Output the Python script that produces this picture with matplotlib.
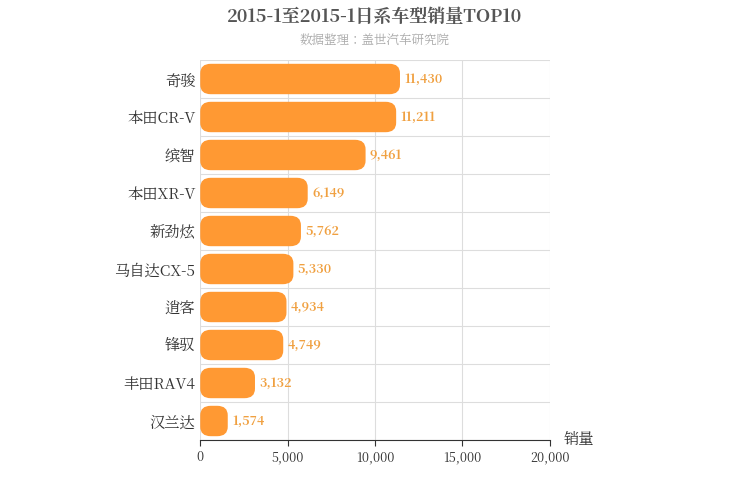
import matplotlib
matplotlib.use("Agg")
import matplotlib.pyplot as plt
from matplotlib import font_manager as fm
from matplotlib.patches import FancyBboxPatch

cjk = None
for f in fm.findSystemFonts():
    if "CJK" in f or "cjk" in f.lower():
        try:
            fm.fontManager.addfont(f)
            name = fm.FontProperties(fname=f).get_name()
            if cjk is None or "SC" in name:
                cjk = name
        except Exception:
            pass
plt.rcParams['font.family'] = [cjk or 'Noto Sans CJK SC', 'DejaVu Sans']

categories = ["奇骏", "本田CR-V", "缤智", "本田XR-V", "新劲炫", "马自达CX-5", "逍客", "锋驭", "丰田RAV4", "汉兰达"]
values = [11430, 11211, 9461, 6149, 5762, 5330, 4934, 4749, 3132, 1574]
xticks = [0, 5000, 10000, 15000, 20000]

fig = plt.figure(figsize=(7.5, 5), dpi=100)
ax = fig.add_axes([0.267, 0.12, 0.466, 0.76])
n = len(categories)
ax.set_xlim(0, 20000)
ax.set_ylim(n - 0.5, -0.5)
bar_h = 0.8
for i, v in enumerate(values):
    p = FancyBboxPatch((0, i - bar_h / 2), v, bar_h,
                       boxstyle="round,pad=0,rounding_size=600",
                       mutation_aspect=0.25 / 600, facecolor="#FF9933", edgecolor="none", zorder=3)
    ax.add_patch(p)
    ax.text(v + 250, i, f"{v:,}", va="center", ha="left", fontsize=9,
            fontweight="bold", color="#F0A040", zorder=4)

ax.set_yticks(range(n))
ax.set_yticklabels(categories, fontsize=11, color="#333333")
ax.set_xticks(xticks)
ax.set_xticklabels([f"{t:,}" for t in xticks], fontsize=9, color="#333333")
for y in [i + 0.5 for i in range(-1, n)]:
    ax.axhline(y, color="#DDDDDD", lw=0.8, zorder=1)
for x in xticks:
    ax.axvline(x, color="#DDDDDD", lw=0.8, zorder=1)
for s in ["top", "right", "left"]:
    ax.spines[s].set_visible(False)
ax.spines["bottom"].set_color("#333333")
ax.tick_params(axis="y", length=0)
ax.tick_params(axis="x", length=4, color="#333333")
ax.text(1.04, 0.0, "销量", transform=ax.transAxes, fontsize=11, color="#333333", va="center")

fig.text(0.5, 0.965, "2015-1至2015-1日系车型销量TOP10", ha="center", va="center",
         fontsize=13, fontweight="bold", color="#555555")
fig.text(0.5, 0.918, "数据整理：盖世汽车研究院", ha="center", va="center",
         fontsize=9, color="#AAAAAA")
fig.savefig("out.png", dpi=100)
